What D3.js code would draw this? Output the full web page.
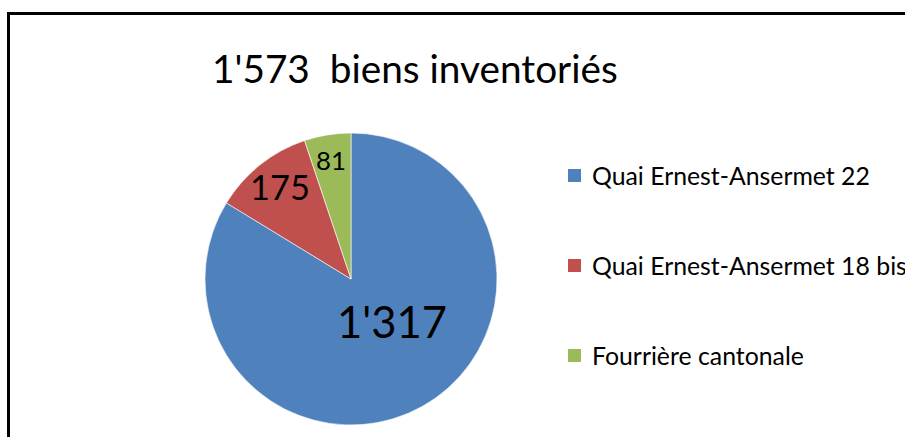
<!DOCTYPE html>
<html>
<head>
<meta charset="utf-8">
<script src="https://cdn.jsdelivr.net/npm/d3@7"></script>
<style>
  html, body { margin: 0; padding: 0; background: #fff; }
  svg { display: block; }
  text { font-family: Lato, "Open Sans", sans-serif; fill: #000; }
</style>
</head>
<body>
<script>
const categories = ["Quai Ernest-Ansermet 22", "Quai Ernest-Ansermet 18 bis", "Fourrière cantonale"];
const values = [1317, 175, 81];
const valueLabels = ["1'317", "175", "81"];
const colors = ["#4F81BD", "#C0504D", "#9BBB59"];
const title = "1'573  biens inventoriés";

const W = 905, H = 437;
const svg = d3.select("body").append("svg").attr("width", W).attr("height", H);

// outer frame
svg.append("rect").attr("x", 8.5).attr("y", 13.5).attr("width", 1000).attr("height", 1000)
  .attr("fill", "#fff").attr("stroke", "#000").attr("stroke-width", 3);

function fit(sel, targetW) {
  const n = sel.node();
  const fs = parseFloat(sel.attr("font-size"));
  const w = n.getComputedTextLength();
  sel.attr("font-size", fs * targetW / w);
}

// title
const t = svg.append("text").attr("x", 212).attr("y", 83).attr("font-size", 36)
  .attr("xml:space", "preserve").style("white-space", "pre").text(title);
fit(t, 406);

// pie
const cx = 351, cy = 279, r = 146;
const pie = d3.pie().sort(null).value(d => d)(values);
const arc = d3.arc().innerRadius(0).outerRadius(r);
const g = svg.append("g").attr("transform", `translate(${cx},${cy})`);
g.selectAll("path").data(pie).join("path")
  .attr("d", arc)
  .attr("fill", (d, i) => colors[i])
  .attr("stroke", "#fff").attr("stroke-width", 0.6);

// data labels: centre x, baseline y, width
const labelPos = [[392, 338, 110], [280, 200, 60], [331, 170, 30]];
valueLabels.forEach((lab, i) => {
  const tx = svg.append("text").attr("x", labelPos[i][0]).attr("y", labelPos[i][1])
    .attr("text-anchor", "middle").attr("font-size", 40).text(lab);
  fit(tx, labelPos[i][2]);
});

// legend
const lg = svg.append("g");
categories.forEach((c, i) => {
  const y = 185 + i * 90;
  lg.append("rect").attr("x", 568).attr("y", y - 16).attr("width", 13).attr("height", 13).attr("fill", colors[i]);
  const tx = lg.append("text").attr("x", 592).attr("y", y).attr("font-size", 22).text(c);
  if (i === 0) fit(tx, 278);
});
const fsL = lg.select("text").attr("font-size");
lg.selectAll("text").attr("font-size", fsL);
</script>
</body>
</html>
